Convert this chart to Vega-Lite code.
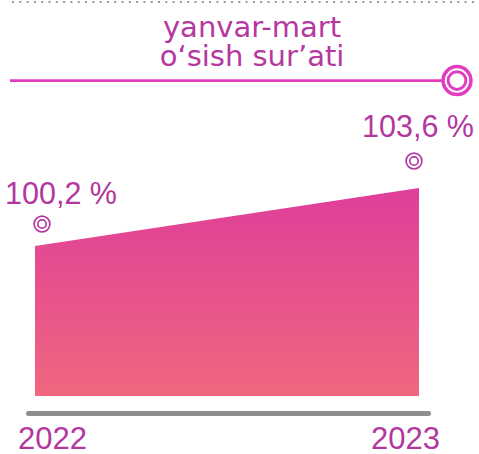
{
  "$schema": "https://vega.github.io/schema/vega-lite/v6.json",
  "width": 400,
  "height": 396,
  "autosize": {"type": "none"},
  "padding": {"left": 28, "top": 0, "right": 51, "bottom": 58},
  "background": "white",
  "config": {"view": {"stroke": null}, "font": "Liberation Sans"},
  "data": {"values": [
    {"year": 2022, "value": 100.2, "label": "100,2 %"},
    {"year": 2023, "value": 103.6, "label": "103,6 %"}
  ]},
  "encoding": {
    "x": {
      "field": "year", "type": "quantitative",
      "scale": {"domain": [2021.98177, 2023.02344], "nice": false, "zero": false},
      "axis": {
        "values": [2022, 2023], "format": "d", "title": null, "ticks": false, "grid": false,
        "domainColor": "#8e8e8e", "domainWidth": 5, "domainCap": "round", "offset": 17,
        "labelFontSize": 31, "labelColor": "#b2379f", "labelFont": "Liberation Sans",
        "labelBaseline": "alphabetic", "labelPadding": 35, "labelAlign": "center",
        "labelOffset": {"condition": {"test": "datum.value == 2022", "value": 17}, "value": -14},
        "labelFlush": false, "labelOverlap": false
      }
    },
    "y": {
      "field": "value", "type": "quantitative",
      "scale": {"domain": [91.41, 114.62], "nice": false, "zero": false},
      "axis": null
    }
  },
  "layer": [
    {
      "mark": {
        "type": "area",
        "color": {
          "gradient": "linear", "x1": 0, "y1": 0, "x2": 0, "y2": 1,
          "stops": [
            {"offset": 0, "color": "#df3e99"},
            {"offset": 1, "color": "#f0677f"}
          ]
        }
      },
      "encoding": {"y": {"field": "value", "type": "quantitative", "stack": null}, "y2": {"datum": 91.41}}
    },
    {
      "transform": [{"filter": "datum.year == 2022"}],
      "layer": [
        {"mark": {"type": "point", "shape": "circle", "filled": false, "size": 250, "strokeWidth": 1.7, "color": "#b43aa3", "opacity": 1, "xOffset": 7, "yOffset": -22}},
        {"mark": {"type": "point", "shape": "circle", "filled": false, "size": 70, "strokeWidth": 1.7, "color": "#b43aa3", "opacity": 1, "xOffset": 7, "yOffset": -22}},
        {"mark": {"type": "text", "dx": 26, "dy": -42, "baseline": "alphabetic", "align": "center", "fontSize": 30.5, "color": "#b2379f"}, "encoding": {"text": {"field": "label"}}}
      ]
    },
    {
      "transform": [{"filter": "datum.year == 2023"}],
      "layer": [
        {"mark": {"type": "point", "shape": "circle", "filled": false, "size": 250, "strokeWidth": 1.7, "color": "#b43aa3", "opacity": 1, "xOffset": -5, "yOffset": -27}},
        {"mark": {"type": "point", "shape": "circle", "filled": false, "size": 70, "strokeWidth": 1.7, "color": "#b43aa3", "opacity": 1, "xOffset": -5, "yOffset": -27}},
        {"mark": {"type": "text", "dx": -1, "dy": -51, "baseline": "alphabetic", "align": "center", "fontSize": 30.5, "color": "#b2379f"}, "encoding": {"text": {"field": "label"}}}
      ]
    },
    {
      "transform": [{"filter": "datum.year == 2022"}],
      "layer": [
        {
          "mark": {"type": "text", "text": ["yanvar-mart", "o‘sish sur’ati"], "font": "DejaVu Sans", "fontSize": 29, "lineHeight": 29, "baseline": "alphabetic", "align": "center", "color": "#b5379f"},
          "encoding": {"x": {"datum": 2022.5651}, "y": {"datum": 112.45}}
        },
        {
          "mark": {"type": "rule", "strokeWidth": 2.7, "color": "#e23dc0"},
          "encoding": {"x": {"datum": 2021.9349}, "x2": {"datum": 2023.0599}, "y": {"datum": 109.9}}
        },
        {
          "mark": {"type": "point", "shape": "circle", "filled": false, "size": 780, "strokeWidth": 3.5, "color": "#e23dc0", "opacity": 1},
          "encoding": {"x": {"datum": 2023.099}, "y": {"datum": 109.9}}
        },
        {
          "mark": {"type": "point", "shape": "circle", "filled": false, "size": 314, "strokeWidth": 3, "color": "#e23dc0", "opacity": 1},
          "encoding": {"x": {"datum": 2023.099}, "y": {"datum": 109.9}}
        },
        {
          "mark": {"type": "rule", "strokeWidth": 2, "strokeDash": [2, 5.3], "color": "#9a9a9a"},
          "encoding": {"x": {"datum": 2021.9401}, "x2": {"datum": 2023.14844}, "y": {"datum": 114.5}}
        }
      ]
    }
  ]
}
